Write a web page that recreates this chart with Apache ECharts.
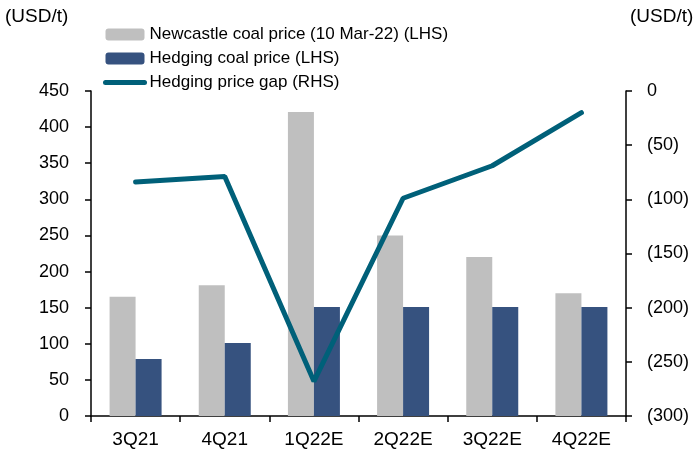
<!DOCTYPE html>
<html>
<head>
<meta charset="utf-8">
<script src="https://cdn.jsdelivr.net/npm/echarts@6/dist/echarts.min.js"></script>
<style>
  html, body { margin: 0; padding: 0; background: #fff; }
  #chart { width: 699px; height: 454px; }
</style>
</head>
<body>
<div id="chart"></div>
<script>
const categories = ['3Q21', '4Q21', '1Q22E', '2Q22E', '3Q22E', '4Q22E']
const newcastlePrice = [165, 181, 421, 250, 220, 170]
const hedgingPrice = [79, 101, 151, 151, 151, 151]
const priceGap = [-84, -79, -268, -99, -69, -20]
const leftTicks = { min: 0, max: 450, interval: 50 }
const rightTicks = { min: -300, max: 0, interval: 50 }

const font = 'Arial, "Liberation Sans", sans-serif'
const lineColor = '#006079'

const chart = echarts.init(document.getElementById('chart'))
chart.setOption({
  animation: false,
  textStyle: { fontFamily: font, color: '#000' },
  grid: { left: 91, right: 73, top: 91, bottom: 38 },
  legend: {
    orient: 'vertical', left: 103, top: 26, padding: 0,
    itemWidth: 39, itemHeight: 12, itemGap: 7,
    textStyle: { fontFamily: font, fontSize: 17, color: '#000' },
    data: [
      'Newcastle coal price (10 Mar-22) (LHS)',
      'Hedging coal price (LHS)',
      {
        name: 'Hedging price gap (RHS)',
        itemStyle: { color: 'transparent', borderWidth: 0 },
        lineStyle: { color: lineColor, width: 5, cap: 'round' }
      }
    ]
  },
  graphic: [
    { type: 'text', left: 5, top: 7, style: { text: '(USD/t)', font: '19px ' + font, fill: '#000' } },
    { type: 'text', left: 630, top: 7, style: { text: '(USD/t)', font: '19px ' + font, fill: '#000' } }
  ],
  xAxis: {
    type: 'category', data: categories,
    axisLine: { lineStyle: { color: '#000', width: 1.5 } },
    axisTick: { show: true, length: 6, lineStyle: { color: '#000', width: 1.5 } },
    axisLabel: { color: '#000', fontSize: 19, margin: 14 }
  },
  yAxis: [
    {
      type: 'value', position: 'left', ...leftTicks,
      axisLine: { show: true, lineStyle: { color: '#000', width: 1.5 } },
      axisTick: { show: true, length: 6, lineStyle: { color: '#000', width: 1.5 } },
      axisLabel: { color: '#000', fontSize: 18, margin: 22 },
      splitLine: { show: false }
    },
    {
      type: 'value', position: 'right', ...rightTicks,
      axisLine: { show: true, lineStyle: { color: '#000', width: 1.5 } },
      axisTick: { show: true, length: 6, lineStyle: { color: '#000', width: 1.5 } },
      axisLabel: {
        color: '#000', fontSize: 18, margin: 21,
        formatter: v => v < 0 ? '(' + (-v) + ')' : String(v)
      },
      splitLine: { show: false }
    }
  ],
  series: [
    {
      name: 'Newcastle coal price (10 Mar-22) (LHS)', type: 'bar', yAxisIndex: 0,
      data: newcastlePrice, barWidth: 26, barGap: '0%',
      itemStyle: { color: '#bfbfbf' }
    },
    {
      name: 'Hedging coal price (LHS)', type: 'bar', yAxisIndex: 0,
      data: hedgingPrice, barWidth: 26, barGap: '0%',
      itemStyle: { color: '#36527f' }
    },
    {
      name: 'Hedging price gap (RHS)', type: 'line', yAxisIndex: 1,
      data: priceGap, showSymbol: false, symbol: 'none',
      lineStyle: { color: lineColor, width: 5, cap: 'round' },
      itemStyle: { color: lineColor }
    }
  ]
})
window.addEventListener('resize', () => chart.resize())
</script>
</body>
</html>
